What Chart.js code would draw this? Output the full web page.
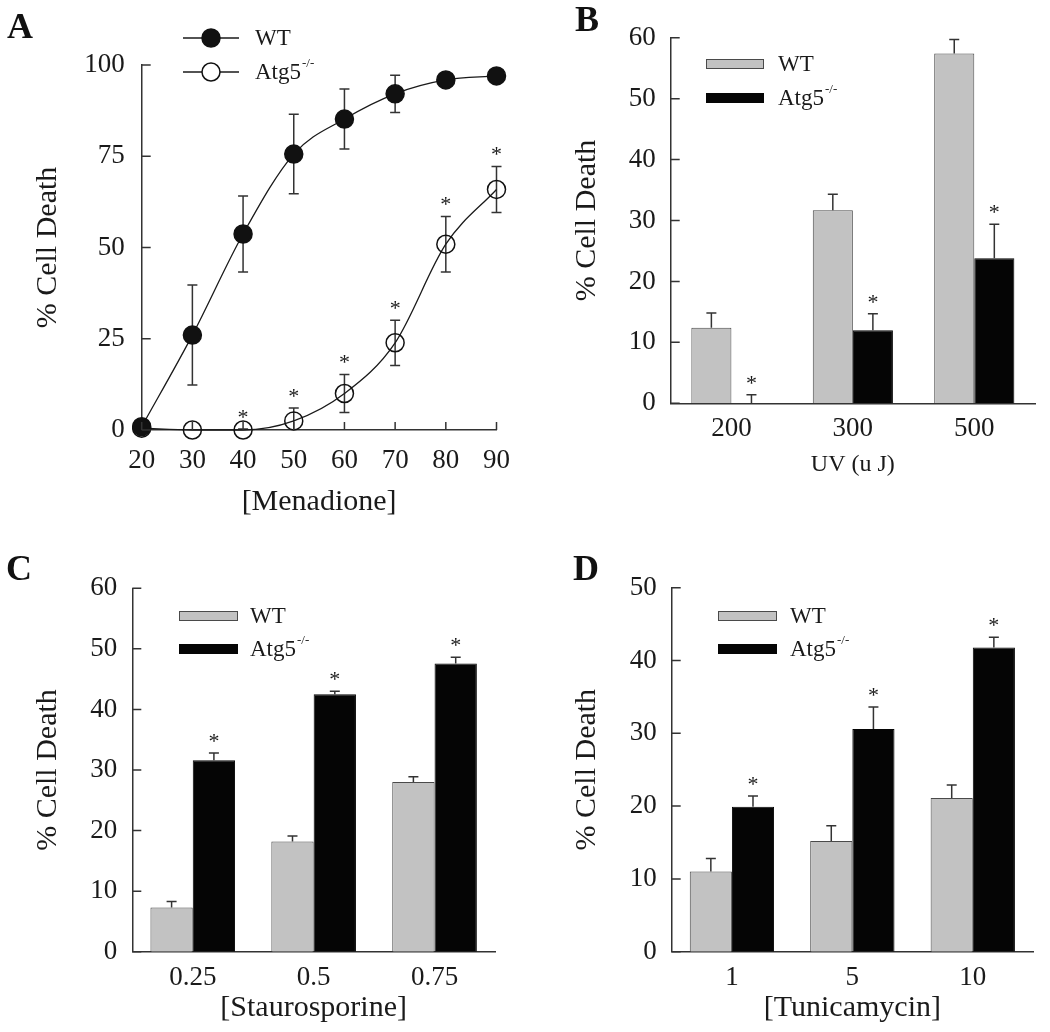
<!DOCTYPE html>
<html lang="en">
<head>
    <meta charset="UTF-8">
    <title>Cell death - WT vs Atg5-/-</title>
    <script src="https://cdn.jsdelivr.net/npm/chart.js"></script>
    <style>
        body { margin: 0; background: #fff; }
        .painel { position: absolute; }
        #figura { position: relative; width: 1050px; height: 1032px; overflow: hidden; }
    </style>
</head>
<body>
    <div id="figura">
        <canvas id="graficoA" class="painel" width="525" height="520" style="left:0px;top:0px"></canvas>
        <canvas id="graficoB" class="painel" width="530" height="520" style="left:520px;top:0px"></canvas>
        <canvas id="graficoC" class="painel" width="525" height="512" style="left:0px;top:520px"></canvas>
        <canvas id="graficoD" class="painel" width="530" height="512" style="left:520px;top:520px"></canvas>
    </div>
<script>
    // A - menadione (line)
    const menadiona = [20, 30, 40, 50, 60, 70, 80, 90];
    const wtA = [0.9, 26.0, 53.7, 75.6, 85.2, 92.1, 95.9, 97.0];
    const wtAerr = [0, 13.7, 10.4, 10.9, 8.2, 5.1, 1.0, 0.5];
    const koA = [0.5, 0, 0, 2.5, 10.0, 23.9, 50.9, 65.9];
    const koAerr = [0, 0, 0.3, 3.5, 5.2, 6.2, 7.6, 6.3];
    const sigA = [false, false, true, true, true, true, true, true];

    // B - UV
    const uv = ['200', '300', '500'];
    const wtB = [12.4, 31.7, 57.4];
    const wtBerr = [2.4, 2.6, 2.3];
    const koB = [0, 12.0, 23.8];
    const koBerr = [1.4, 2.7, 5.6];
    const sigB = [true, true, true];

    // C - staurosporine
    const stauro = ['0.25', '0.5', '0.75'];
    const wtC = [7.3, 18.2, 28.0];
    const wtCerr = [1.0, 0.9, 0.9];
    const koC = [31.6, 42.5, 47.6];
    const koCerr = [1.2, 0.5, 1.0];
    const sigC = [true, true, true];

    // D - tunicamycin
    const tunica = ['1', '5', '10'];
    const wtD = [11.0, 15.2, 21.1];
    const wtDerr = [1.8, 2.1, 1.8];
    const koD = [19.9, 30.6, 41.8];
    const koDerr = [1.5, 3.0, 1.4];
    const sigD = [true, true, true];

    const SERIF = "'Liberation Serif', 'Times New Roman', serif";
    const COR_TEXTO = '#1a1a1a';
    const COR_EIXO = '#333';
    const CINZA = '#c2c2c2';

    Chart.defaults.font.family = SERIF;
    Chart.defaults.color = COR_TEXTO;
    Chart.defaults.animation = false;

    // error bars, stars, inner ticks, legend and panel letter
    const desenharErros = (chart, soCima) => {
        const ctx = chart.ctx;
        const y = chart.scales.y;
        ctx.save();
        ctx.strokeStyle = COR_EIXO;
        ctx.lineWidth = 1.5;
        chart.data.datasets.forEach((ds, i) => {
            const meta = chart.getDatasetMeta(i);
            meta.data.forEach((el, j) => {
                const v = chart.config.type === 'line' ? ds.data[j].y : ds.data[j];
                const e = ds.erros[j];
                if (!e) return;
                const topo = y.getPixelForValue(v + e);
                const base = soCima ? y.getPixelForValue(v) : y.getPixelForValue(Math.max(0, v - e));
                ctx.beginPath();
                ctx.moveTo(el.x, base);
                ctx.lineTo(el.x, topo);
                ctx.moveTo(el.x - 5, topo);
                ctx.lineTo(el.x + 5, topo);
                if (!soCima && v - e > 0) {
                    ctx.moveTo(el.x - 5, base);
                    ctx.lineTo(el.x + 5, base);
                }
                ctx.stroke();
            });
        });
        ctx.restore();
    };

    const extras = {
        id: 'extras',
        beforeDatasetsDraw(chart, args, opts) {
            if (chart.config.type === 'line') desenharErros(chart, false);
        },
        afterDatasetsDraw(chart, args, opts) {
            if (chart.config.type === 'bar') desenharErros(chart, true);
        },
        afterDraw(chart, args, opts) {
            const ctx = chart.ctx;
            const area = chart.chartArea;
            const sy = chart.scales.y;
            const sx = chart.scales.x;
            ctx.save();
            ctx.strokeStyle = COR_EIXO;
            ctx.lineWidth = 1.5;

            // ticks pointing into the plot
            ctx.beginPath();
            sy.ticks.forEach(t => {
                const p = sy.getPixelForValue(t.value);
                ctx.moveTo(area.left, p);
                ctx.lineTo(area.left + opts.tickY, p);
            });
            if (opts.tickX) {
                sx.ticks.forEach(t => {
                    const p = sx.getPixelForValue(t.value);
                    ctx.moveTo(p, area.bottom);
                    ctx.lineTo(p, area.bottom - opts.tickX);
                });
            }
            ctx.stroke();

            // significance stars
            ctx.fillStyle = COR_TEXTO;
            ctx.font = '22px ' + SERIF;
            ctx.textAlign = 'center';
            ctx.textBaseline = 'middle';
            chart.data.datasets.forEach((ds, i) => {
                if (!ds.sig) return;
                const meta = chart.getDatasetMeta(i);
                meta.data.forEach((el, j) => {
                    if (!ds.sig[j]) return;
                    const v = chart.config.type === 'line' ? ds.data[j].y : ds.data[j];
                    const topo = sy.getPixelForValue(v + (ds.erros[j] || 0));
                    ctx.fillText('*', el.x, topo - 11);
                });
            });

            // legend
            const leg = opts.legenda;
            chart.data.datasets.forEach((ds, i) => {
                const yc = leg.ys[i];
                if (leg.tipo === 'linha') {
                    ctx.strokeStyle = ds.borderColor;
                    ctx.lineWidth = 1.3;
                    ctx.beginPath();
                    ctx.moveTo(leg.x0, yc);
                    ctx.lineTo(leg.x1, yc);
                    ctx.stroke();
                    ctx.beginPath();
                    ctx.arc((leg.x0 + leg.x1) / 2, yc, 9, 0, Math.PI * 2);
                    ctx.fillStyle = ds.vazio ? '#fff' : ds.pointBackgroundColor;
                    ctx.fill();
                    ctx.strokeStyle = ds.pointBorderColor;
                    ctx.lineWidth = 1.5;
                    ctx.stroke();
                } else {
                    ctx.fillStyle = ds.backgroundColor;
                    ctx.fillRect(leg.x0, yc - 5, leg.x1 - leg.x0, 10);
                    ctx.strokeStyle = ds.borderColor;
                    ctx.lineWidth = 1;
                    ctx.strokeRect(leg.x0 + 0.5, yc - 4.5, leg.x1 - leg.x0 - 1, 9);
                }
                ctx.fillStyle = COR_TEXTO;
                ctx.textAlign = 'left';
                ctx.textBaseline = 'middle';
                ctx.font = '23px ' + SERIF;
                ctx.fillText(ds.label, leg.textoX, yc + 1);
                if (ds.sobrescrito) {
                    const w = ctx.measureText(ds.label).width;
                    ctx.font = '13px ' + SERIF;
                    ctx.fillText(ds.sobrescrito, leg.textoX + w + 1, yc - 8);
                }
            });

            // panel letter
            ctx.fillStyle = '#111';
            ctx.font = 'bold 36px ' + SERIF;
            ctx.textAlign = 'left';
            ctx.textBaseline = 'alphabetic';
            ctx.fillText(opts.letra.texto, opts.letra.x, opts.letra.y);
            ctx.restore();
        }
    };

    const eixoY = (max, passo, larg, padTitulo, padTick) => ({
        min: 0,
        max: max,
        grid: { display: false, drawTicks: false },
        border: { display: true, color: COR_EIXO, width: 1.5 },
        ticks: { stepSize: passo, font: { size: 27 }, padding: padTick, color: COR_TEXTO },
        title: { display: true, text: '% Cell Death', font: { size: 30 }, color: COR_TEXTO, padding: { top: padTitulo, bottom: 0 } },
        afterFit: (s) => { s.width = larg; }
    });

    // A
    new Chart(document.getElementById('graficoA'), {
        type: 'line',
        data: {
            datasets: [{
                label: 'WT',
                data: menadiona.map((x, i) => ({ x: x, y: wtA[i] })),
                erros: wtAerr,
                borderColor: '#1a1a1a',
                borderWidth: 1.3,
                pointBackgroundColor: '#111',
                pointBorderColor: '#111',
                pointBorderWidth: 1.5,
                pointRadius: 9,
                cubicInterpolationMode: 'monotone',
                clip: false
            }, {
                label: 'Atg5',
                sobrescrito: '-/-',
                vazio: true,
                data: menadiona.map((x, i) => ({ x: x, y: koA[i] })),
                erros: koAerr,
                sig: sigA,
                borderColor: '#1a1a1a',
                borderWidth: 1.3,
                pointBackgroundColor: 'rgba(255,255,255,0)',
                pointBorderColor: '#111',
                pointBorderWidth: 1.5,
                pointRadius: 9,
                cubicInterpolationMode: 'monotone',
                clip: false
            }]
        },
        options: {
            responsive: false,
            events: [],
            layout: { padding: { left: 0, top: 65, right: 23.3, bottom: 0 } },
            scales: {
                x: {
                    type: 'linear',
                    min: 20,
                    max: 90,
                    grid: { display: false, drawTicks: false },
                    border: { display: true, color: COR_EIXO, width: 1.5 },
                    ticks: { stepSize: 10, font: { size: 27 }, padding: 15, color: COR_TEXTO },
                    title: { display: true, text: '[Menadione]', font: { size: 30 }, color: COR_TEXTO, padding: { top: 0, bottom: 0 } },
                    afterFit: (s) => { s.height = 90; }
                },
                y: eixoY(100, 25, 141.7, 30, 17)
            },
            plugins: {
                legend: { display: false },
                tooltip: { enabled: false },
                extras: {
                    tickY: 9,
                    tickX: 8,
                    letra: { texto: 'A', x: 7, y: 38 },
                    legenda: { tipo: 'linha', x0: 183, x1: 239, ys: [38, 72], textoX: 255 }
                }
            }
        },
        plugins: [extras]
    });

    const graficoBarras = (id, rotulos, titulo, tamTitulo, wt, wtErr, ko, koErr, sig, yMax, cfg) => {
        new Chart(document.getElementById(id), {
            type: 'bar',
            data: {
                labels: rotulos,
                datasets: [{
                    label: 'WT',
                    data: wt,
                    erros: wtErr,
                    backgroundColor: CINZA,
                    borderColor: '#4a4a4a',
                    borderWidth: 1
                }, {
                    label: 'Atg5',
                    sobrescrito: '-/-',
                    data: ko,
                    erros: koErr,
                    sig: sig,
                    backgroundColor: '#050505',
                    borderColor: '#050505',
                    borderWidth: 1
                }]
            },
            options: {
                responsive: false,
                events: [],
                barPercentage: 1,
                categoryPercentage: cfg.catPct,
                layout: { padding: cfg.padding },
                scales: {
                    x: {
                        grid: { display: false, drawTicks: false },
                        border: { display: true, color: COR_EIXO, width: 1.5 },
                        ticks: { font: { size: 27 }, padding: cfg.padTickX, color: COR_TEXTO },
                        title: { display: true, text: titulo, font: { size: tamTitulo }, color: COR_TEXTO, padding: { top: 0, bottom: 0 } },
                        afterFit: (s) => { s.height = cfg.altX; }
                    },
                    y: eixoY(yMax, 10, cfg.largY, cfg.padTitulo, 15)
                },
                plugins: {
                    legend: { display: false },
                    tooltip: { enabled: false },
                    extras: {
                        tickY: 9,
                        letra: cfg.letra,
                        legenda: cfg.legenda
                    }
                }
            },
            plugins: [extras]
        });
    };

    graficoBarras('graficoB', uv, 'UV (u J)', 24, wtB, wtBerr, koB, koBerr, sigB, 60, {
        catPct: 0.66,
        padding: { left: 0, top: 37.7, right: 15, bottom: 40.6 },
        altX: 76.1,
        largY: 150.7,
        padTitulo: 49,
        padTickX: 9,
        letra: { texto: 'B', x: 55, y: 31 },
        legenda: { tipo: 'caixa', x0: 186, x1: 244, ys: [64, 98], textoX: 258 }
    });

    graficoBarras('graficoC', stauro, '[Staurosporine]', 30, wtC, wtCerr, koC, koCerr, sigC, 60, {
        catPct: 0.7,
        padding: { left: 0, top: 68.3, right: 30, bottom: 6 },
        altX: 74.3,
        largY: 132.3,
        padTitulo: 30,
        padTickX: 10,
        letra: { texto: 'C', x: 6, y: 60 },
        legenda: { tipo: 'caixa', x0: 179, x1: 238, ys: [96, 129], textoX: 250 }
    });

    graficoBarras('graficoD', tunica, '[Tunicamycin]', 30, wtD, wtDerr, koD, koDerr, sigD, 50, {
        catPct: 0.7,
        padding: { left: 0, top: 67.7, right: 17, bottom: 6 },
        altX: 74.3,
        largY: 151.7,
        padTitulo: 49,
        padTickX: 10,
        letra: { texto: 'D', x: 53, y: 60 },
        legenda: { tipo: 'caixa', x0: 198, x1: 257, ys: [96, 129], textoX: 270 }
    });
</script>
</body>
</html>
